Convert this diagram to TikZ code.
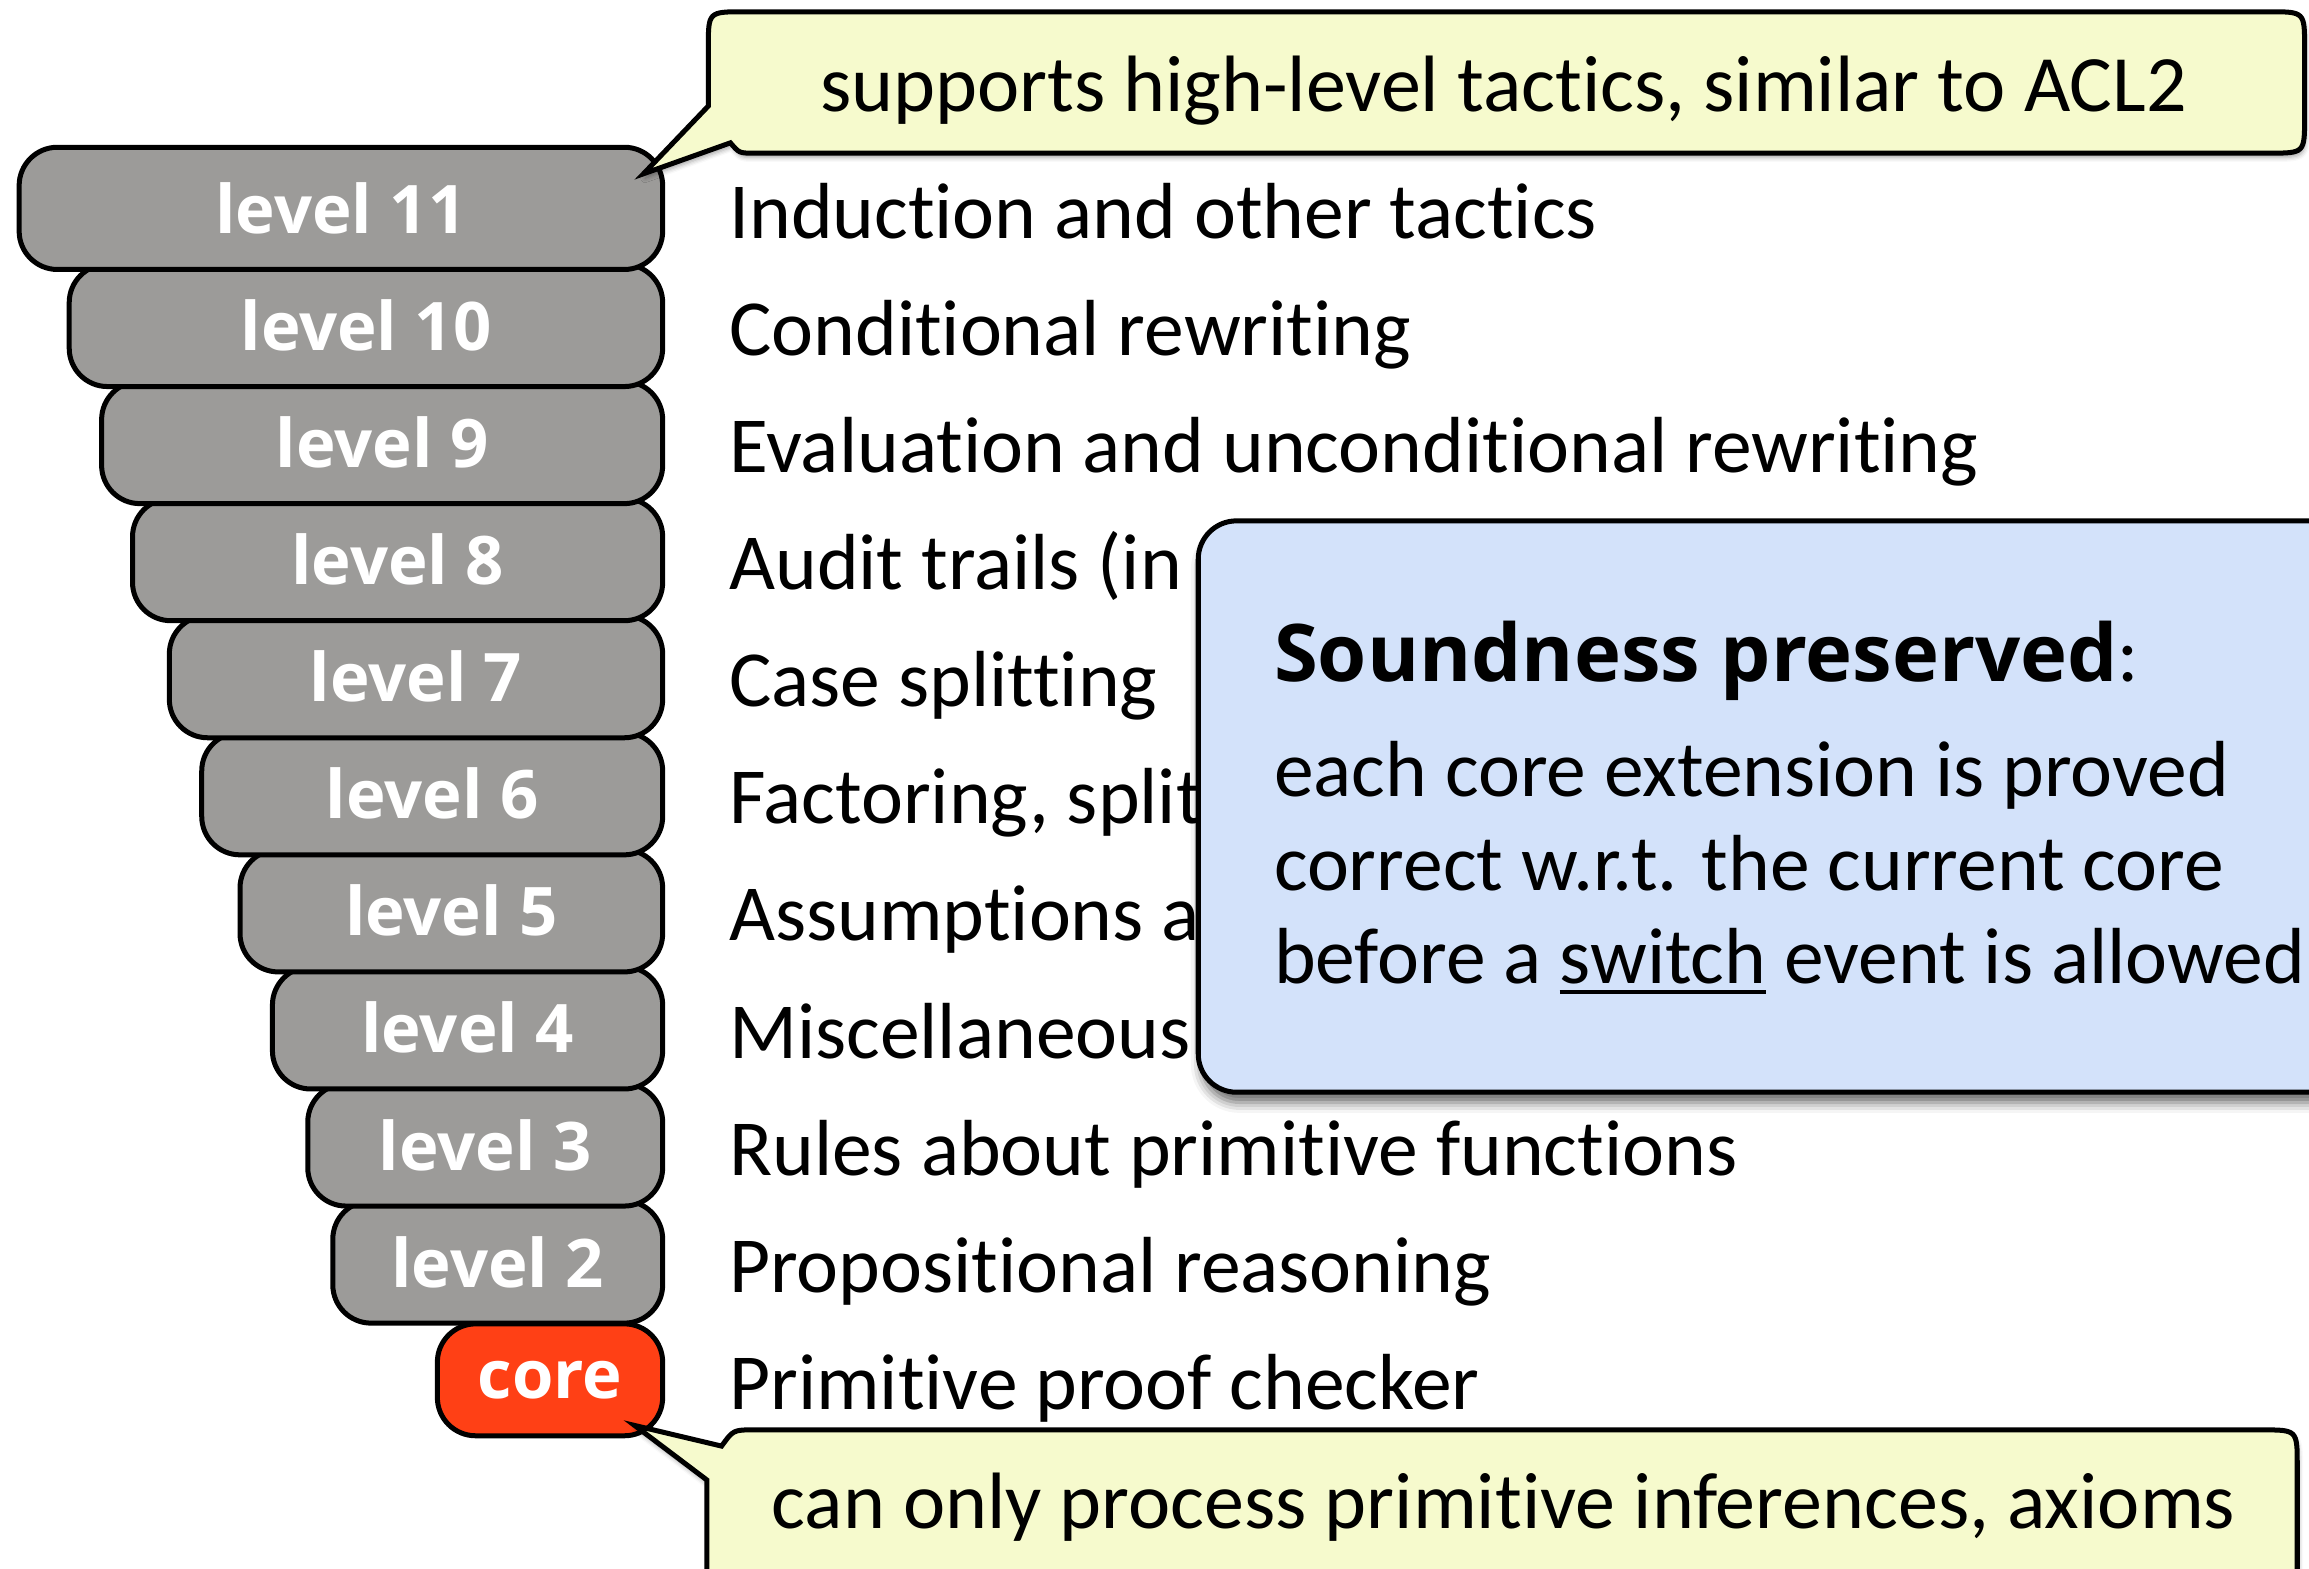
\documentclass[tikz,border=0pt]{standalone}
\usepackage{fontspec}
\setmainfont{Carlito}[Ligatures=NoCommon]
\newfontfamily\heavyfont{Open Sans}[BoldFont={Open Sans Bold}]
\usetikzlibrary{shadows.blur}

\definecolor{lvlgray}{HTML}{9C9B99}
\definecolor{corered}{HTML}{FF4015}
\definecolor{notefill}{HTML}{F6FACD}
\definecolor{boxblue}{HTML}{D3E2FA}

% underline drawn as a rule of fixed depth and thickness
\newcommand\ulword[1]{\setbox0\hbox{#1}\rlap{\rule[-7pt]{\wd0}{2.6pt}}\box0\relax}

\begin{document}
\begin{tikzpicture}[x=1pt,y=-1pt,
  lvl/.style={draw=black, line width=3.4pt, fill=lvlgray, rounded corners=26pt,
    text=white, font=\fontsize{45.5}{45.5}\selectfont\heavyfont\bfseries,
    inner sep=0pt, minimum height=83pt},
  corebox/.style={lvl, fill=corered, minimum height=76pt},
  desc/.style={anchor=base west, inner sep=0pt, font=\fontsize{54}{54}\selectfont},
  note/.style={draw=black, line width=3.4pt, fill=notefill,
    blur shadow={shadow xshift=1pt, shadow yshift=-3pt, shadow blur radius=3pt, shadow opacity=35}},
  notetext/.style={anchor=base, inner sep=0pt, font=\fontsize{54.3}{54.3}\selectfont},
  bluebox/.style={draw=black, line width=3.4pt, fill=boxblue, rounded corners=26pt,
    blur shadow={shadow xshift=2pt, shadow yshift=-7pt, shadow blur radius=7pt, shadow opacity=60}},
  boxtext/.style={anchor=base west, inner sep=0pt, font=\fontsize{54}{54}\selectfont}
]
\useasboundingbox (0,0) rectangle (1568,1065);
\clip (0,0) rectangle (1568,1065);

% the stack of levels, drawn from the core upwards
\node[corebox, minimum width=153pt] (core) at (373.5,937) {core};
\foreach \n/\lft/\cy in {2/226/857, 3/209/777.5, 4/185/698, 5/163/618.5,
    6/137/539, 7/115/459.5, 8/90/380, 9/69/300.5, 10/47/221, 11/13/141.5}
  \node[lvl, minimum width={(450-\lft)*1pt}] (l\n) at ({(450+\lft)/2},\cy) {level \n};

% what each level provides
\node[desc] (d11) at (495,162) {Induction and other tactics};
\node[desc] (d10) at (495,241.5) {Conditional rewriting};
\node[desc] (d9) at (495,321) {Evaluation and unconditional rewriting};
\node[desc] (d8) at (495,400.5) {Audit trails (in};
\node[desc] (d7) at (495,480) {Case splitting};
\node[desc] (d6) at (495,559.5) {Factoring, split};
\node[desc] (d5) at (495,639) {Assumptions a};
\node[desc] (d4) at (495,718.5) {Miscellaneous};
\node[desc] (d3) at (495,798) {Rules about primitive functions};
\node[desc] (d2) at (495,877.5) {Propositional reasoning};
\node[desc] (dc) at (495,957) {Primitive proof checker};

% soundness box
\node[bluebox, anchor=north west, minimum width=800pt, minimum height=388pt] (sbox) at (812,352) {};
\node[boxtext] (s0) at (865,463) {{\fontsize{54}{54}\selectfont\heavyfont\bfseries Soundness preserved}:};
\node[boxtext] (s1) at (865,541) {each core extension is proved};
\node[boxtext] (s2) at (865,605) {correct w.r.t. the current core};
\node[boxtext] (s3) at (865,668) {before a \ulword{switch} event is allowed};

% callout for the top level
\coordinate (tipA) at (437,118);
\draw[note] (481,72) -- (481,32) .. controls (481,8) .. (505,8) -- (1541,8)
  .. controls (1565,8) .. (1565,32) -- (1565,80) .. controls (1565,104) .. (1541,104)
  -- (512,104) .. controls (502,104) .. (496,97) -- (tipA) -- cycle;
\node[notetext] (nA) at (1021,76) {supports high-level tactics, similar to ACL2};

% callout for the core
\coordinate (tipB) at (431,968);
\draw[note] (480,1005) -- (480,1100) -- (1560,1100) -- (1560,995)
  .. controls (1560,971) .. (1536,971) -- (512,971) .. controls (498,971) .. (490,982)
  -- (tipB) -- cycle;
\node[notetext] (nB) at (1021,1038) {can only process primitive inferences, axioms};
\end{tikzpicture}
\end{document}
